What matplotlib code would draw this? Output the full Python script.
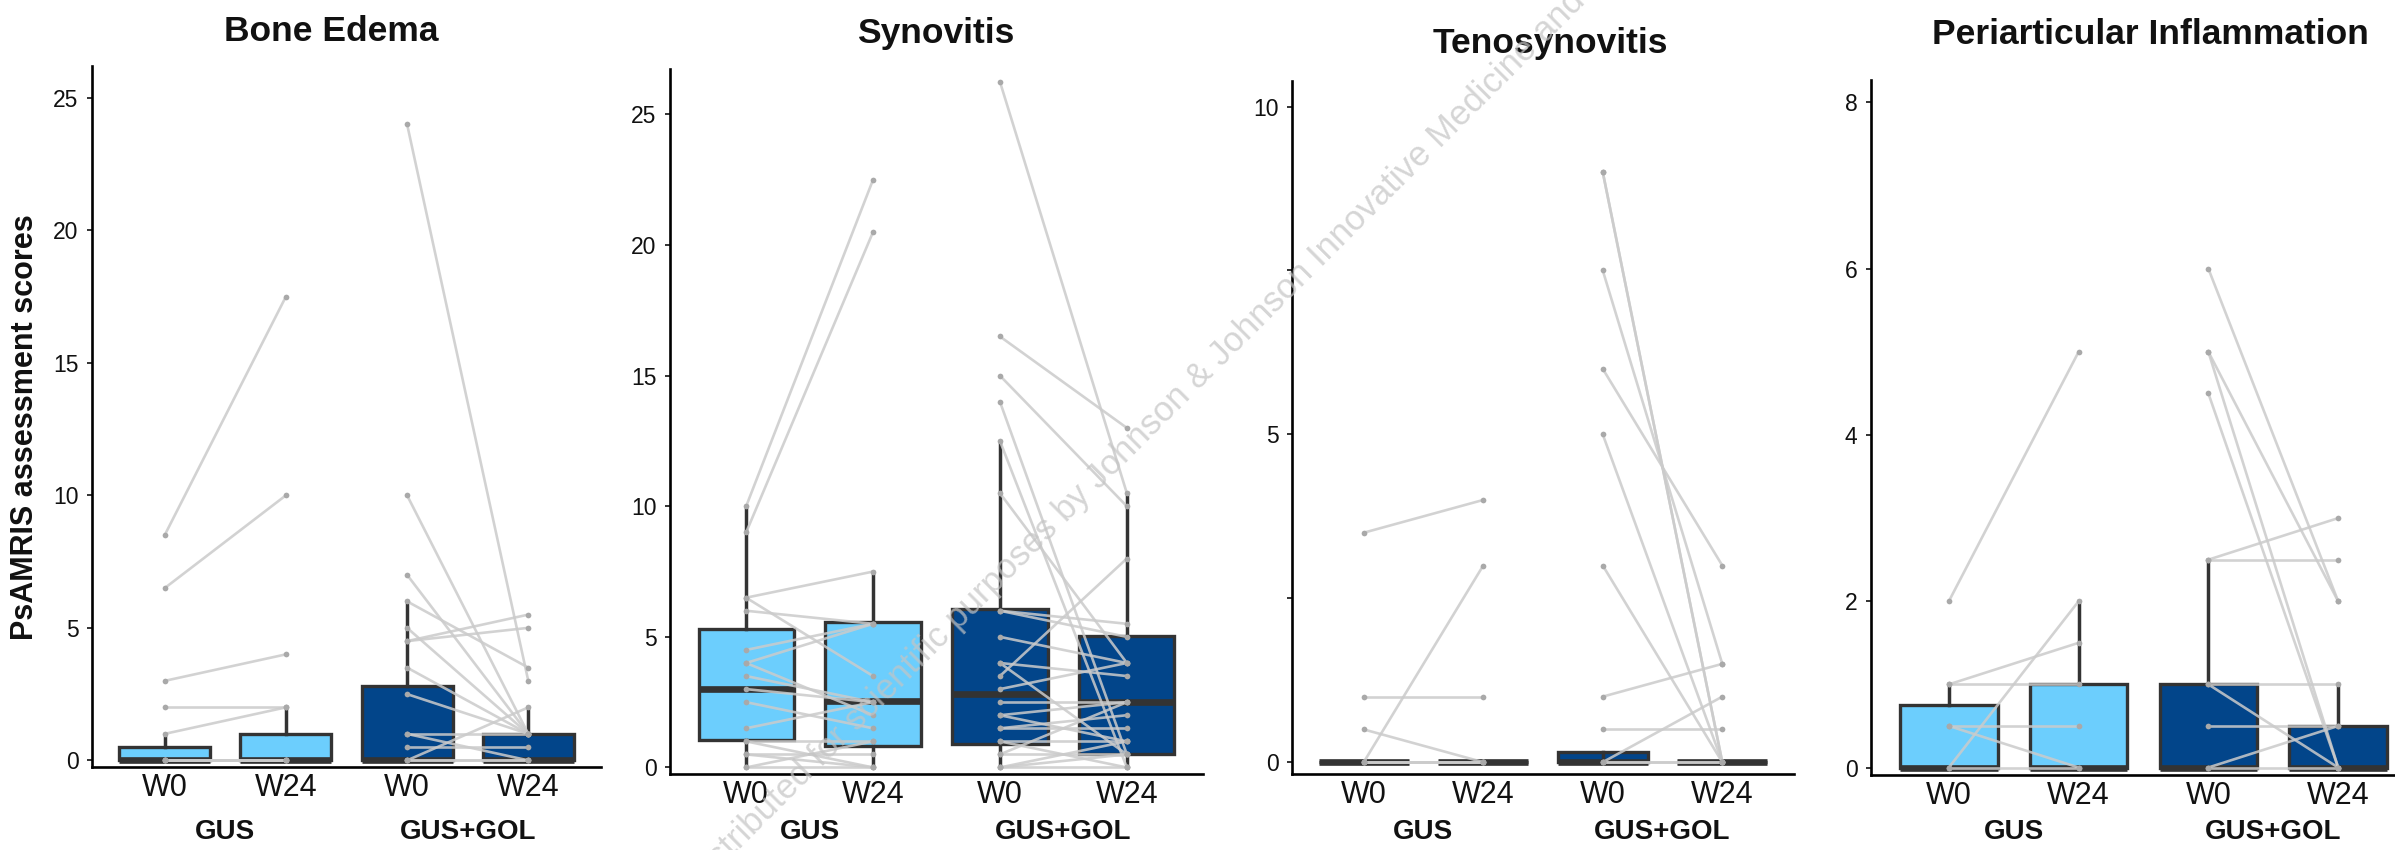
"""
PsAMRIS paired scores (W0 -> W24) for GUS and GUS+GOL,
four panels: boxplot summaries with spaghetti lines per patient.
"""

import matplotlib
matplotlib.use("Agg")
import matplotlib.pyplot as plt
from matplotlib.transforms import blended_transform_factory

plt.rcParams["font.family"] = ["Liberation Sans", "DejaVu Sans"]

# -------------------------------------------------------
# DATA
# -------------------------------------------------------
titles     = ["Bone Edema", "Synovitis", "Tenosynovitis", "Periarticular Inflammation"]
timepoints = ["W0", "W24", "W0", "W24"]
groups     = ["GUS", "GUS+GOL"]
y_label    = "PsAMRIS assessment scores"

# Bone Edema - paired patient scores
be_gus_w0  = [8.5, 6.5, 3, 2, 1, 0, 0, 0, 0]
be_gus_w24 = [17.5, 10, 4, 2, 2, 0, 0, 0, 0]
be_gg_w0   = [24, 10, 7, 6, 5, 4.5, 4.5, 3.5, 2.5, 1, 1, 0.5, 0, 0, 0]
be_gg_w24  = [3, 1, 1, 3.5, 1, 5.5, 5, 1, 1, 1, 0, 0.5, 2, 0, 0]

# Synovitis
sy_gus_w0  = [10, 9, 6.5, 6.5, 6, 4.5, 4, 4, 3.5, 3, 2.5, 1.5, 1, 1, 0.5, 0.5, 0, 0]
sy_gus_w24 = [22.5, 20.5, 7.5, 3.5, 5.5, 5.5, 5.5, 2, 2.5, 2.5, 1.5, 2.5, 1, 0, 0.5, 0, 1, 0]
sy_gg_w0   = [26.25, 16.5, 15, 14, 12.5, 10.5, 6, 6, 5, 4, 4, 3.5, 3, 2.5, 2, 2,
              1.5, 1.5, 1, 1, 0.5, 0.5, 0, 0, 0]
sy_gg_w24  = [10.5, 13, 10, 0.5, 0, 4, 5.5, 5, 4, 3.5, 0.5, 8, 4, 2.5, 2.5, 1,
              2, 1.5, 1, 0, 0.5, 2.5, 0, 0.5, 1]

# Tenosynovitis
te_gus_w0  = [3.5, 0, 1, 0.5, 0, 0, 0]
te_gus_w24 = [4, 3, 1, 0, 0, 0, 0]
te_gg_w0   = [9, 9, 7.5, 6, 5, 3, 1, 0.5, 0, 0, 0]
te_gg_w24  = [0, 0, 1.5, 3, 0, 0, 1.5, 0.5, 1, 0, 0]

# Periarticular Inflammation
pa_gus_w0  = [2, 1, 1, 0.5, 0.5, 0, 0]
pa_gus_w24 = [5, 1.5, 1, 0.5, 0, 2, 0]
pa_gg_w0   = [6, 5, 5, 4.5, 2.5, 2.5, 1, 1, 0.5, 0, 0]
pa_gg_w24  = [2, 2, 0, 0, 3, 2.5, 1, 0, 0.5, 0.5, 0]

# Box summaries, order: GUS W0, GUS W24, GUS+GOL W0, GUS+GOL W24
be_q1  = [0, 0, 0, 0]
be_med = [0, 0, 0, 0]
be_q3  = [0.5, 1, 2.8, 1]
be_lo  = [0, 0, 0, 0]
be_hi  = [1, 2, 6, 2]

sy_q1  = [1.05, 0.82, 0.9, 0.52]
sy_med = [3, 2.55, 2.8, 2.52]
sy_q3  = [5.3, 5.55, 6.05, 5.05]
sy_lo  = [0, 0, 0, 0]
sy_hi  = [10, 7.5, 12.5, 10.5]

te_q1  = [0, 0, 0, 0]
te_med = [0, 0, 0, 0]
te_q3  = [0, 0, 0.15, 0]
te_lo  = [0, 0, 0, 0]
te_hi  = [0, 0, 0, 0]

pa_q1  = [0, 0, 0, 0]
pa_med = [0, 0, 0, 0]
pa_q3  = [0.75, 1, 1, 0.5]
pa_lo  = [0, 0, 0, 0]
pa_hi  = [1, 2, 2.5, 1]

# -------------------------------------------------------
# STYLE / LAYOUT (pixels on a 2395 x 850 canvas)
# -------------------------------------------------------
W, H = 2395, 850
LIGHT_BLUE = "#6ccefd"
DARK_BLUE  = "#02458a"
EDGE       = "#333333"
LINE_GREY  = "#cbcbcb"
PT_GREY    = "#a9a9a9"
box_colors = [LIGHT_BLUE, LIGHT_BLUE, DARK_BLUE, DARK_BLUE]

# left, top, right, bottom of each axes
rects  = [(92, 66, 601, 767), (670, 69, 1203, 774),
          (1292, 81, 1794, 774), (1871, 80, 2416, 775)]
ylims  = [(-0.25, 26.2), (-0.25, 26.74), (-0.18, 10.39), (-0.09, 8.27)]
yticks = [[0, 5, 10, 15, 20, 25], [0, 5, 10, 15, 20, 25],
          [0, 2.5, 5, 7.5, 10], [0, 2, 4, 6, 8]]
ylabs  = [["0", "5", "10", "15", "20", "25"], ["0", "5", "10", "15", "20", "25"],
          ["0", "", "5", "", "10"], ["0", "2", "4", "6", "8"]]
title_xy = [(331, 41), (936, 43), (1550, 52.5), (2150, 43.5)]

pairs = [
    [(be_gus_w0, be_gus_w24), (be_gg_w0, be_gg_w24)],
    [(sy_gus_w0, sy_gus_w24), (sy_gg_w0, sy_gg_w24)],
    [(te_gus_w0, te_gus_w24), (te_gg_w0, te_gg_w24)],
    [(pa_gus_w0, pa_gus_w24), (pa_gg_w0, pa_gg_w24)],
]
summaries = [
    (be_q1, be_med, be_q3, be_lo, be_hi),
    (sy_q1, sy_med, sy_q3, sy_lo, sy_hi),
    (te_q1, te_med, te_q3, te_lo, te_hi),
    (pa_q1, pa_med, pa_q3, pa_lo, pa_hi),
]

fig = plt.figure(figsize=(W / 100, H / 100), dpi=100)
fig.patch.set_facecolor("white")

positions = [1, 2, 3, 4]

for i in range(4):
    L, T, R, B = rects[i]
    ax = fig.add_axes([L / W, 1 - B / H, (R - L) / W, (B - T) / H])

    q1, med, q3, lo, hi = summaries[i]
    stats = [dict(q1=q1[k], med=med[k], q3=q3[k], whislo=lo[k], whishi=hi[k], fliers=[])
             for k in range(4)]
    bp = ax.bxp(stats, positions=positions, widths=0.75, patch_artist=True,
                showcaps=False, showfliers=False, zorder=2,
                boxprops=dict(edgecolor=EDGE, linewidth=2.4),
                whiskerprops=dict(color=EDGE, linewidth=2.5),
                medianprops=dict(color=EDGE, linewidth=4.8, solid_capstyle="butt"))
    for patch, c in zip(bp["boxes"], box_colors):
        patch.set_facecolor(c)

    # paired patient lines
    for (w0, w24), x0 in zip(pairs[i], [1, 3]):
        for a, b in zip(w0, w24):
            ax.plot([x0, x0 + 1], [a, b], color=LINE_GREY, lw=1.9, alpha=0.85,
                    zorder=3, solid_capstyle="round")
        ax.scatter([x0] * len(w0) + [x0 + 1] * len(w24), list(w0) + list(w24),
                   s=17, color=PT_GREY, linewidths=0, zorder=4)

    ax.set_xlim(0.4, 4.6)
    ax.set_ylim(*ylims[i])
    ax.set_xticks(positions)
    ax.set_xticklabels(timepoints)
    ax.set_yticks(yticks[i])
    ax.set_yticklabels(ylabs[i])
    ax.tick_params(axis="x", length=0, labelsize=22, pad=4, labelcolor="#111111")
    ax.tick_params(axis="y", length=3.8, width=1.4, color=EDGE, labelsize=16.5,
                   pad=6, labelcolor="#111111")
    for side in ["top", "right"]:
        ax.spines[side].set_visible(False)
    for side in ["left", "bottom"]:
        ax.spines[side].set_linewidth(1.9)
        ax.spines[side].set_color("black")
    ax.patch.set_alpha(0)

    # group labels below each W0/W24 pair
    tr = blended_transform_factory(ax.transData, fig.transFigure)
    for g, xc in zip(groups, [1.5, 3.5]):
        ax.text(xc, 1 - 839 / H, g, transform=tr, ha="center", va="baseline",
                fontsize=20, fontweight="bold", color="#111111")

    tx, ty = title_xy[i]
    fig.text(tx / W, 1 - ty / H, titles[i], ha="center", va="baseline",
             fontsize=25.5, fontweight="bold", color="#111111")

fig.text(25 / W, 1 - 427 / H, y_label, rotation=90, ha="center", va="center",
         fontsize=22, fontweight="bold", color="#111111")

# diagonal watermark
fig.text(697 / W, 1 - 892 / H,
         "Distributed for scientific purposes by Johnson & Johnson Innovative Medicine and",
         rotation=45, rotation_mode="anchor", ha="left", va="baseline",
         fontsize=25, color="#c4c4c4", alpha=0.7, zorder=10)

fig.savefig("out.png", dpi=100, facecolor="white")
plt.close(fig)
